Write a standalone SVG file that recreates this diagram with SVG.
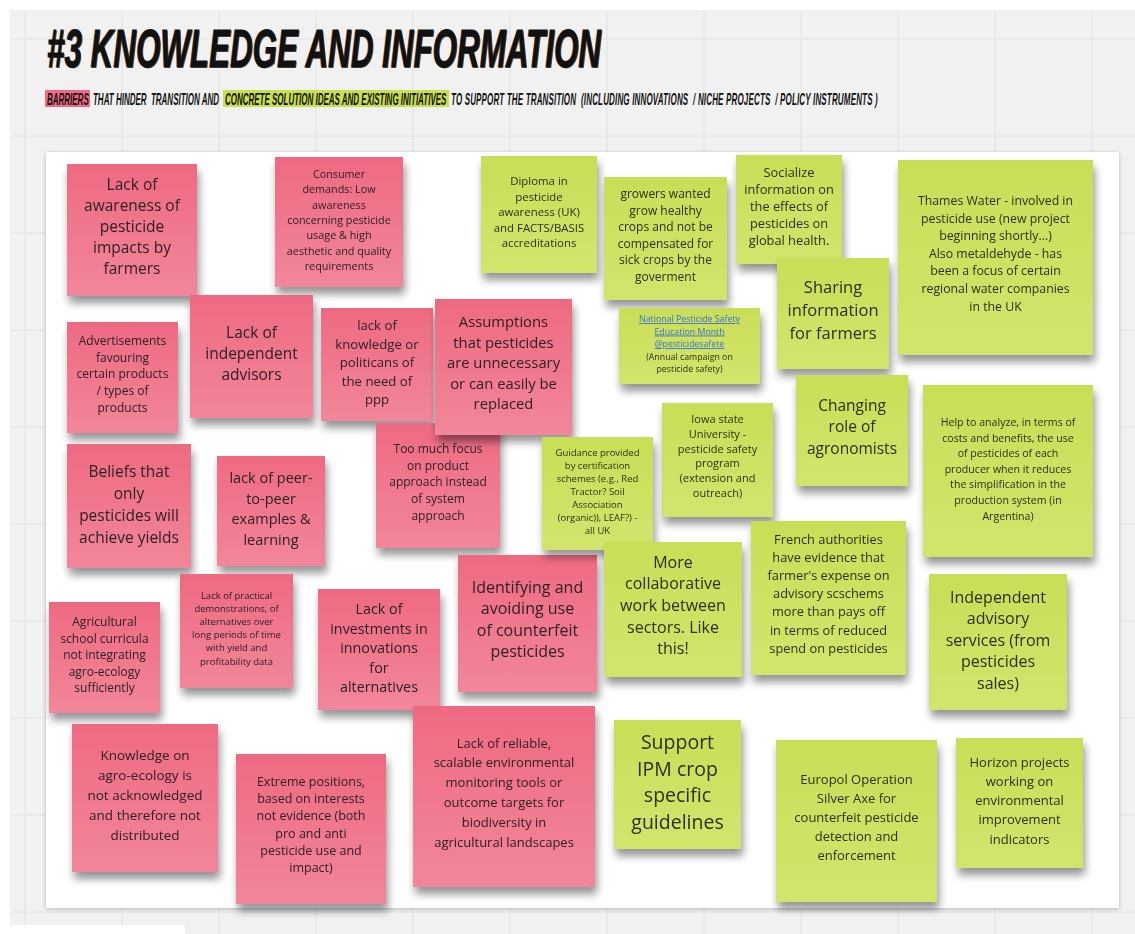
<svg xmlns="http://www.w3.org/2000/svg" width="1135" height="934" viewBox="0 0 1135 934">
  <defs>
    <style>
      .grid line { stroke: #e2e2e2; stroke-width: 1; }
      .title { font-family: "Liberation Sans", Arial, sans-serif; font-weight: bold; font-style: italic; fill: #111; }
      .pink rect { fill: url(#gradPink); }
      .green rect { fill: url(#gradGreen); }
      .note { filter: url(#noteShadow); }
      .note text { font-family: "Open Sans", "Noto Sans", sans-serif; text-anchor: middle; }
      .pink text { fill: #2e2024; }
      .green text { fill: #2c3019; }
      .link { fill: #3b6fd6; text-decoration: underline; }
    </style>
    <linearGradient id="gradPink" x1="0" y1="0" x2="0" y2="1">
      <stop offset="0" stop-color="#ee6a82"/>
      <stop offset="1" stop-color="#f2869a"/>
    </linearGradient>
    <linearGradient id="gradGreen" x1="0" y1="0" x2="0" y2="1">
      <stop offset="0" stop-color="#c9de57"/>
      <stop offset="1" stop-color="#d3e46c"/>
    </linearGradient>
    <filter id="noteShadow" x="-10%" y="-10%" width="125%" height="130%">
      <feGaussianBlur in="SourceAlpha" stdDeviation="4"/>
      <feOffset dx="2" dy="7" result="off"/>
      <feComponentTransfer><feFuncA type="linear" slope="0.42"/></feComponentTransfer>
      <feMerge><feMergeNode/><feMergeNode in="SourceGraphic"/></feMerge>
    </filter>
    <filter id="boardShadow" x="-2%" y="-2%" width="104%" height="104%">
      <feGaussianBlur in="SourceAlpha" stdDeviation="2"/>
      <feOffset dx="0" dy="1"/>
      <feComponentTransfer><feFuncA type="linear" slope="0.25"/></feComponentTransfer>
      <feMerge><feMergeNode/><feMergeNode in="SourceGraphic"/></feMerge>
    </filter>
  </defs>

  <!-- canvas -->
  <rect x="0" y="0" width="1135" height="934" fill="#ffffff"/>
  <rect x="10" y="10" width="1125" height="924" fill="#f1f1f1"/>
  <g class="grid">
    <line x1="25" y1="10" x2="25" y2="934"/>
    <line x1="122" y1="10" x2="122" y2="934"/>
    <line x1="219" y1="10" x2="219" y2="934"/>
    <line x1="316" y1="10" x2="316" y2="934"/>
    <line x1="413" y1="10" x2="413" y2="934"/>
    <line x1="510" y1="10" x2="510" y2="934"/>
    <line x1="607" y1="10" x2="607" y2="934"/>
    <line x1="704" y1="10" x2="704" y2="934"/>
    <line x1="801" y1="10" x2="801" y2="934"/>
    <line x1="898" y1="10" x2="898" y2="934"/>
    <line x1="995" y1="10" x2="995" y2="934"/>
    <line x1="1092" y1="10" x2="1092" y2="934"/>
    <line x1="10" y1="39" x2="1135" y2="39"/>
    <line x1="10" y1="136" x2="1135" y2="136"/>
    <line x1="10" y1="233" x2="1135" y2="233"/>
    <line x1="10" y1="330" x2="1135" y2="330"/>
    <line x1="10" y1="427" x2="1135" y2="427"/>
    <line x1="10" y1="524" x2="1135" y2="524"/>
    <line x1="10" y1="621" x2="1135" y2="621"/>
    <line x1="10" y1="718" x2="1135" y2="718"/>
    <line x1="10" y1="815" x2="1135" y2="815"/>
    <line x1="10" y1="912" x2="1135" y2="912"/>
  </g>
  <rect x="10" y="925" width="175" height="14" rx="4" fill="#ffffff"/>

  <!-- heading -->
  <g id="heading">
    <text class="title" x="48" y="68" font-size="53" textLength="554" lengthAdjust="spacingAndGlyphs" fill="#777" opacity="0.6">#3 KNOWLEDGE AND INFORMATION</text>
    <text class="title" x="47" y="67" font-size="53" textLength="554" lengthAdjust="spacingAndGlyphs" stroke="#111" stroke-width="1">#3 KNOWLEDGE AND INFORMATION</text>
    <rect x="45" y="90" width="45" height="17" fill="#f06a84"/>
    <rect x="223" y="90" width="226" height="17" fill="#c8e04e"/>
    <!-- caption line, condensed horizontally by half -->
    <text class="title" font-size="16" transform="translate(0,105) scale(0.5,1)" xml:space="preserve"><tspan x="94" y="0">BARRIERS</tspan><tspan x="186" y="0">THAT HINDER  TRANSITION AND</tspan><tspan x="450" y="0">CONCRETE SOLUTION IDEAS AND EXISTING INITIATIVES</tspan><tspan x="902" y="0" letter-spacing="0.35">TO SUPPORT THE TRANSITION  (INCLUDING INNOVATIONS  / NICHE PROJECTS  / POLICY INSTRUMENTS )</tspan></text>
  </g>

  <!-- board -->
  <rect id="board" x="46" y="152" width="1073" height="756" fill="#ffffff" filter="url(#boardShadow)"/>

  <!-- barriers (pink) -->
  <g id="n-awareness" class="note pink">
    <rect x="67" y="164" width="130" height="132"/>
    <text x="132" y="190" font-size="15.5"><tspan x="132">Lack of</tspan><tspan x="132" dy="21">awareness of</tspan><tspan x="132" dy="21">pesticide</tspan><tspan x="132" dy="21">impacts by</tspan><tspan x="132" dy="21">farmers</tspan></text>
  </g>
  <g id="n-consumer" class="note pink">
    <rect x="275" y="157" width="128" height="130"/>
    <text x="339" y="178" font-size="10.8"><tspan x="339">Consumer</tspan><tspan x="339" dy="15.3">demands: Low</tspan><tspan x="339" dy="15.3">awareness</tspan><tspan x="339" dy="15.3">concerning pesticide</tspan><tspan x="339" dy="15.3">usage &amp; high</tspan><tspan x="339" dy="15.3">aesthetic and quality</tspan><tspan x="339" dy="15.3">requirements</tspan></text>
  </g>
  <g id="n-advertisements" class="note pink">
    <rect x="67" y="322" width="111" height="111"/>
    <text x="122.5" y="345" font-size="12"><tspan x="122.5">Advertisements</tspan><tspan x="122.5" dy="16.7">favouring</tspan><tspan x="122.5" dy="16.7">certain products</tspan><tspan x="122.5" dy="16.7">/ types of</tspan><tspan x="122.5" dy="16.7">products</tspan></text>
  </g>
  <g id="n-advisors" class="note pink">
    <rect x="190" y="295" width="123" height="123"/>
    <text x="251.5" y="337.5" font-size="15.5"><tspan x="251.5">Lack of</tspan><tspan x="251.5" dy="21">independent</tspan><tspan x="251.5" dy="21">advisors</tspan></text>
  </g>
  <g id="n-politicians" class="note pink">
    <rect x="321" y="308" width="112" height="113"/>
    <text x="377" y="330" font-size="13.2"><tspan x="377">lack of</tspan><tspan x="377" dy="18.5">knowledge or</tspan><tspan x="377" dy="18.5">politicans of</tspan><tspan x="377" dy="18.5">the need of</tspan><tspan x="377" dy="18.5">ppp</tspan></text>
  </g>
  <g id="n-product-focus" class="note pink">
    <rect x="376" y="423" width="124" height="125"/>
    <text x="438" y="453" font-size="12"><tspan x="438">Too much focus</tspan><tspan x="438" dy="16.7">on product</tspan><tspan x="438" dy="16.7">approach instead</tspan><tspan x="438" dy="16.7">of system</tspan><tspan x="438" dy="16.7">approach</tspan></text>
  </g>
  <g id="n-assumptions" class="note pink">
    <rect x="435" y="299" width="137" height="136"/>
    <text x="503.5" y="327" font-size="14.8"><tspan x="503.5">Assumptions</tspan><tspan x="503.5" dy="20.5">that pesticides</tspan><tspan x="503.5" dy="20.5">are unnecessary</tspan><tspan x="503.5" dy="20.5">or can easily be</tspan><tspan x="503.5" dy="20.5">replaced</tspan></text>
  </g>
  <g id="n-beliefs" class="note pink">
    <rect x="67" y="444" width="124" height="124"/>
    <text x="129" y="476.5" font-size="15.5"><tspan x="129">Beliefs that</tspan><tspan x="129" dy="22">only</tspan><tspan x="129" dy="22">pesticides will</tspan><tspan x="129" dy="22">achieve yields</tspan></text>
  </g>
  <g id="n-peer" class="note pink">
    <rect x="217" y="456" width="108" height="110"/>
    <text x="271" y="483" font-size="14.5"><tspan x="271">lack of peer-</tspan><tspan x="271" dy="20.5">to-peer</tspan><tspan x="271" dy="20.5">examples &amp;</tspan><tspan x="271" dy="20.5">learning</tspan></text>
  </g>
  <g id="n-curricula" class="note pink">
    <rect x="49" y="602" width="111" height="111"/>
    <text x="104.5" y="626" font-size="12"><tspan x="104.5">Agricultural</tspan><tspan x="104.5" dy="16.5">school curricula</tspan><tspan x="104.5" dy="16.5">not integrating</tspan><tspan x="104.5" dy="16.5">agro-ecology</tspan><tspan x="104.5" dy="16.5">sufficiently</tspan></text>
  </g>
  <g id="n-demonstrations" class="note pink">
    <rect x="180" y="574" width="113" height="114"/>
    <text x="236.5" y="598.5" font-size="9.5"><tspan x="236.5">Lack of practical</tspan><tspan x="236.5" dy="13.2">demonstrations, of</tspan><tspan x="236.5" dy="13.2">alternatives over</tspan><tspan x="236.5" dy="13.2">long periods of time</tspan><tspan x="236.5" dy="13.2">with yield and</tspan><tspan x="236.5" dy="13.2">profitability data</tspan></text>
  </g>
  <g id="n-investments" class="note pink">
    <rect x="318" y="589" width="122" height="121"/>
    <text x="379" y="614" font-size="14.3"><tspan x="379">Lack of</tspan><tspan x="379" dy="19.5">investments in</tspan><tspan x="379" dy="19.5">innovations</tspan><tspan x="379" dy="19.5">for</tspan><tspan x="379" dy="19.5">alternatives</tspan></text>
  </g>
  <g id="n-counterfeit" class="note pink">
    <rect x="458" y="555" width="139" height="137"/>
    <text x="527.5" y="592.5" font-size="16"><tspan x="527.5">Identifying and</tspan><tspan x="527.5" dy="21.6">avoiding use</tspan><tspan x="527.5" dy="21.6">of counterfeit</tspan><tspan x="527.5" dy="21.6">pesticides</tspan></text>
  </g>
  <g id="n-agroecology" class="note pink">
    <rect x="72" y="724" width="146" height="148"/>
    <text x="145" y="760" font-size="13.5"><tspan x="145">Knowledge on</tspan><tspan x="145" dy="20">agro-ecology is</tspan><tspan x="145" dy="20">not acknowledged</tspan><tspan x="145" dy="20">and therefore not</tspan><tspan x="145" dy="20">distributed</tspan></text>
  </g>
  <g id="n-extreme" class="note pink">
    <rect x="236" y="754" width="150" height="150"/>
    <text x="311" y="786" font-size="12.5"><tspan x="311">Extreme positions,</tspan><tspan x="311" dy="17.2">based on interests</tspan><tspan x="311" dy="17.2">not evidence (both</tspan><tspan x="311" dy="17.2">pro and anti</tspan><tspan x="311" dy="17.2">pesticide use and</tspan><tspan x="311" dy="17.2">impact)</tspan></text>
  </g>
  <g id="n-monitoring" class="note pink">
    <rect x="413" y="706" width="182" height="181"/>
    <text x="504" y="747.5" font-size="13"><tspan x="504">Lack of reliable,</tspan><tspan x="504" dy="19.8">scalable environmental</tspan><tspan x="504" dy="19.8">monitoring tools or</tspan><tspan x="504" dy="19.8">outcome targets for</tspan><tspan x="504" dy="19.8">biodiversity in</tspan><tspan x="504" dy="19.8">agricultural landscapes</tspan></text>
  </g>

  <!-- solutions and initiatives (green) -->
  <g id="n-diploma" class="note green">
    <rect x="481" y="156" width="116" height="117"/>
    <text x="539" y="185" font-size="11.4"><tspan x="539">Diploma in</tspan><tspan x="539" dy="15.5">pesticide</tspan><tspan x="539" dy="15.5">awareness (UK)</tspan><tspan x="539" dy="15.5">and FACTS/BASIS</tspan><tspan x="539" dy="15.5">accreditations</tspan></text>
  </g>
  <g id="n-growers" class="note green">
    <rect x="604" y="177" width="123" height="123"/>
    <text x="665.5" y="198" font-size="12"><tspan x="665.5">growers wanted</tspan><tspan x="665.5" dy="16.6">grow healthy</tspan><tspan x="665.5" dy="16.6">crops and not be</tspan><tspan x="665.5" dy="16.6">compensated for</tspan><tspan x="665.5" dy="16.6">sick crops by the</tspan><tspan x="665.5" dy="16.6">goverment</tspan></text>
  </g>
  <g id="n-socialize" class="note green">
    <rect x="736" y="155" width="106" height="109"/>
    <text x="789" y="176.5" font-size="12.8"><tspan x="789">Socialize</tspan><tspan x="789" dy="17">information on</tspan><tspan x="789" dy="17">the effects of</tspan><tspan x="789" dy="17">pesticides on</tspan><tspan x="789" dy="17">global health.</tspan></text>
  </g>
  <g id="n-thames" class="note green">
    <rect x="898" y="160" width="195" height="195"/>
    <text x="995.5" y="205" font-size="12.3"><tspan x="995.5">Thames Water - involved in</tspan><tspan x="995.5" dy="17.6">pesticide use (new project</tspan><tspan x="995.5" dy="17.6">beginning shortly...)</tspan><tspan x="995.5" dy="17.6">Also metaldehyde - has</tspan><tspan x="995.5" dy="17.6">been a focus of certain</tspan><tspan x="995.5" dy="17.6">regional water companies</tspan><tspan x="995.5" dy="17.6">in the UK</tspan></text>
  </g>
  <g id="n-sharing" class="note green">
    <rect x="777" y="258" width="112" height="111"/>
    <text x="833" y="293" font-size="16.5"><tspan x="833">Sharing</tspan><tspan x="833" dy="23">information</tspan><tspan x="833" dy="23">for farmers</tspan></text>
  </g>
  <g id="n-safety-month" class="note green">
    <rect x="619" y="308" width="141" height="76"/>
    <text x="689.5" y="322" font-size="8.8"><tspan x="689.5" class="link">National Pesticide Safety</tspan><tspan x="689.5" dy="12.5" class="link">Education Month</tspan><tspan x="689.5" dy="12.5" class="link">@pesticidesafete</tspan><tspan x="689.5" dy="12.5">(Annual campaign on</tspan><tspan x="689.5" dy="12.5">pesticide safety)</tspan></text>
  </g>
  <g id="n-agronomists" class="note green">
    <rect x="796" y="375" width="112" height="111"/>
    <text x="852" y="410.5" font-size="15.5"><tspan x="852">Changing</tspan><tspan x="852" dy="21.5">role of</tspan><tspan x="852" dy="21.5">agronomists</tspan></text>
  </g>
  <g id="n-iowa" class="note green">
    <rect x="662" y="403" width="111" height="114"/>
    <text x="717.5" y="423" font-size="11"><tspan x="717.5">Iowa state</tspan><tspan x="717.5" dy="14.8">University -</tspan><tspan x="717.5" dy="14.8">pesticide safety</tspan><tspan x="717.5" dy="14.8">program</tspan><tspan x="717.5" dy="14.8">(extension and</tspan><tspan x="717.5" dy="14.8">outreach)</tspan></text>
  </g>
  <g id="n-guidance" class="note green">
    <rect x="542" y="437" width="111" height="113"/>
    <text x="597.5" y="455.5" font-size="9.5"><tspan x="597.5">Guidance provided</tspan><tspan x="597.5" dy="13.1">by certification</tspan><tspan x="597.5" dy="13.1">schemes (e.g., Red</tspan><tspan x="597.5" dy="13.1">Tractor? Soil</tspan><tspan x="597.5" dy="13.1">Association</tspan><tspan x="597.5" dy="13.1">(organic)), LEAF?) -</tspan><tspan x="597.5" dy="13.1">all UK</tspan></text>
  </g>
  <g id="n-argentina" class="note green">
    <rect x="923" y="385" width="170" height="172"/>
    <text x="1008" y="426" font-size="10.6"><tspan x="1008">Help to analyze, in terms of</tspan><tspan x="1008" dy="15.6">costs and benefits, the use</tspan><tspan x="1008" dy="15.6">of pesticides of each</tspan><tspan x="1008" dy="15.6">producer when it reduces</tspan><tspan x="1008" dy="15.6">the simplification in the</tspan><tspan x="1008" dy="15.6">production system (in</tspan><tspan x="1008" dy="15.6">Argentina)</tspan></text>
  </g>
  <g id="n-collaborative" class="note green">
    <rect x="604" y="542" width="138" height="135"/>
    <text x="673" y="567.5" font-size="16"><tspan x="673">More</tspan><tspan x="673" dy="21.7">collaborative</tspan><tspan x="673" dy="21.7">work between</tspan><tspan x="673" dy="21.7">sectors. Like</tspan><tspan x="673" dy="21.7">this!</tspan></text>
  </g>
  <g id="n-french" class="note green">
    <rect x="751" y="521" width="155" height="154"/>
    <text x="828.5" y="543.5" font-size="12.8"><tspan x="828.5">French authorities</tspan><tspan x="828.5" dy="18.2">have evidence that</tspan><tspan x="828.5" dy="18.2">farmer's expense on</tspan><tspan x="828.5" dy="18.2">advisory scschems</tspan><tspan x="828.5" dy="18.2">more than pays off</tspan><tspan x="828.5" dy="18.2">in terms of reduced</tspan><tspan x="828.5" dy="18.2">spend on pesticides</tspan></text>
  </g>
  <g id="n-independent" class="note green">
    <rect x="929" y="574" width="138" height="136"/>
    <text x="998" y="602.5" font-size="16"><tspan x="998">Independent</tspan><tspan x="998" dy="21.5">advisory</tspan><tspan x="998" dy="21.5">services (from</tspan><tspan x="998" dy="21.5">pesticides</tspan><tspan x="998" dy="21.5">sales)</tspan></text>
  </g>
  <g id="n-ipm" class="note green">
    <rect x="614" y="720" width="127" height="129"/>
    <text x="677.5" y="749" font-size="19.5"><tspan x="677.5">Support</tspan><tspan x="677.5" dy="26.7">IPM crop</tspan><tspan x="677.5" dy="26.7">specific</tspan><tspan x="677.5" dy="26.7">guidelines</tspan></text>
  </g>
  <g id="n-europol" class="note green">
    <rect x="776" y="740" width="161" height="162"/>
    <text x="856.5" y="783.5" font-size="13"><tspan x="856.5">Europol Operation</tspan><tspan x="856.5" dy="19">Silver Axe for</tspan><tspan x="856.5" dy="19">counterfeit pesticide</tspan><tspan x="856.5" dy="19">detection and</tspan><tspan x="856.5" dy="19">enforcement</tspan></text>
  </g>
  <g id="n-horizon" class="note green">
    <rect x="956" y="738" width="127" height="130"/>
    <text x="1019.5" y="766.5" font-size="13"><tspan x="1019.5">Horizon projects</tspan><tspan x="1019.5" dy="19.3">working on</tspan><tspan x="1019.5" dy="19.3">environmental</tspan><tspan x="1019.5" dy="19.3">improvement</tspan><tspan x="1019.5" dy="19.3">indicators</tspan></text>
  </g>
</svg>
